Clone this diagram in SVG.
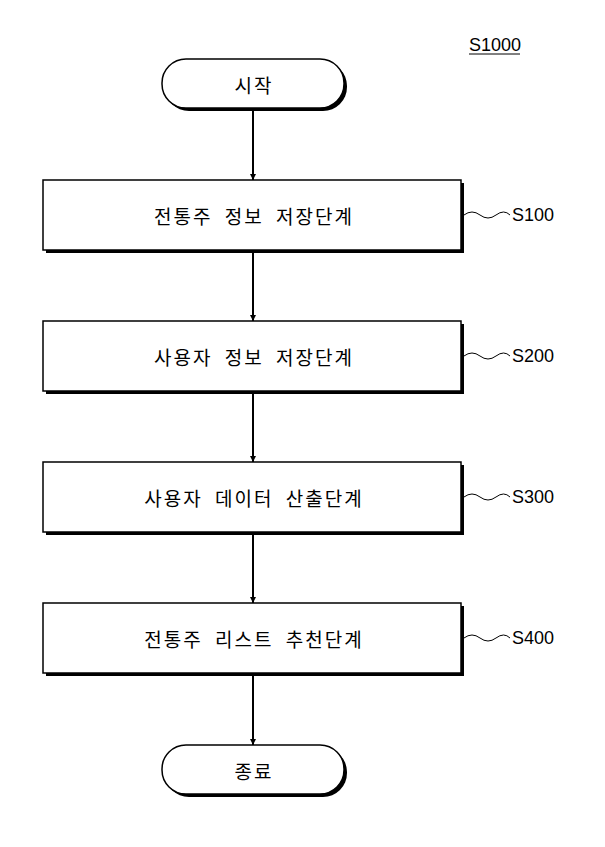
<svg xmlns="http://www.w3.org/2000/svg" width="605" height="847" viewBox="0 0 605 847">
<style>
.s{fill:#000}
.b{fill:#fff;stroke:#000;stroke-width:1.5}
.t{font-family:"Noto Sans CJK KR",sans-serif;font-size:19px;text-anchor:middle;dominant-baseline:central;fill:#000;letter-spacing:2px;word-spacing:6px}
.l{font-family:"Liberation Sans",sans-serif;font-size:18px;fill:#000;dominant-baseline:central}
.c{stroke:#000;stroke-width:2;fill:none}
.w{stroke:#000;stroke-width:1;fill:none}
</style>
<defs><marker id="a" viewBox="0 0 10 10" refX="10" refY="5" markerWidth="6" markerHeight="7" orient="auto" markerUnits="userSpaceOnUse"><path d="M0,0L10,5L0,10z"/></marker></defs>
<rect width="605" height="847" fill="#fff"/>
<text class="l" x="469" y="45">S1000</text>
<line x1="469" y1="54" x2="520" y2="54" stroke="#000" stroke-width="1"/>
<g id="start"><rect class="s" x="165" y="62" width="182" height="49" rx="24"/><rect class="b" x="162" y="59" width="182" height="49" rx="24"/><text class="t" x="254" y="84">시작</text></g>
<g id="s100"><rect class="s" x="46" y="183" width="418" height="70"/><rect class="b" x="43" y="180" width="418" height="70"/><text class="t" x="254" y="215">전통주 정보 저장단계</text></g>
<g id="s200"><rect class="s" x="46" y="324" width="418" height="70"/><rect class="b" x="43" y="321" width="418" height="70"/><text class="t" x="254" y="356">사용자 정보 저장단계</text></g>
<g id="s300"><rect class="s" x="46" y="465" width="418" height="70"/><rect class="b" x="43" y="462" width="418" height="70"/><text class="t" x="254" y="497">사용자 데이터 산출단계</text></g>
<g id="s400"><rect class="s" x="46" y="606" width="418" height="70"/><rect class="b" x="43" y="603" width="418" height="70"/><text class="t" x="254" y="638">전통주 리스트 추천단계</text></g>
<g id="end"><rect class="s" x="165" y="748" width="182" height="49" rx="24"/><rect class="b" x="162" y="745" width="182" height="49" rx="24"/><text class="t" x="254" y="770">종료</text></g>
<g id="connectors">
<line class="c" x1="253" y1="111" x2="253" y2="180" marker-end="url(#a)"/>
<line class="c" x1="253" y1="253" x2="253" y2="321" marker-end="url(#a)"/>
<line class="c" x1="253" y1="394" x2="253" y2="462" marker-end="url(#a)"/>
<line class="c" x1="253" y1="535" x2="253" y2="603" marker-end="url(#a)"/>
<line class="c" x1="253" y1="676" x2="253" y2="745" marker-end="url(#a)"/>
<path class="w" d="M464,215 q8,-6 16,0 t16,0 t14,0"/>
<path class="w" d="M464,356 q8,-6 16,0 t16,0 t14,0"/>
<path class="w" d="M464,497 q8,-6 16,0 t16,0 t14,0"/>
<path class="w" d="M464,638 q8,-6 16,0 t16,0 t14,0"/>
</g>
<text class="l" x="512" y="215">S100</text>
<text class="l" x="512" y="356">S200</text>
<text class="l" x="512" y="497">S300</text>
<text class="l" x="512" y="638">S400</text>
</svg>
